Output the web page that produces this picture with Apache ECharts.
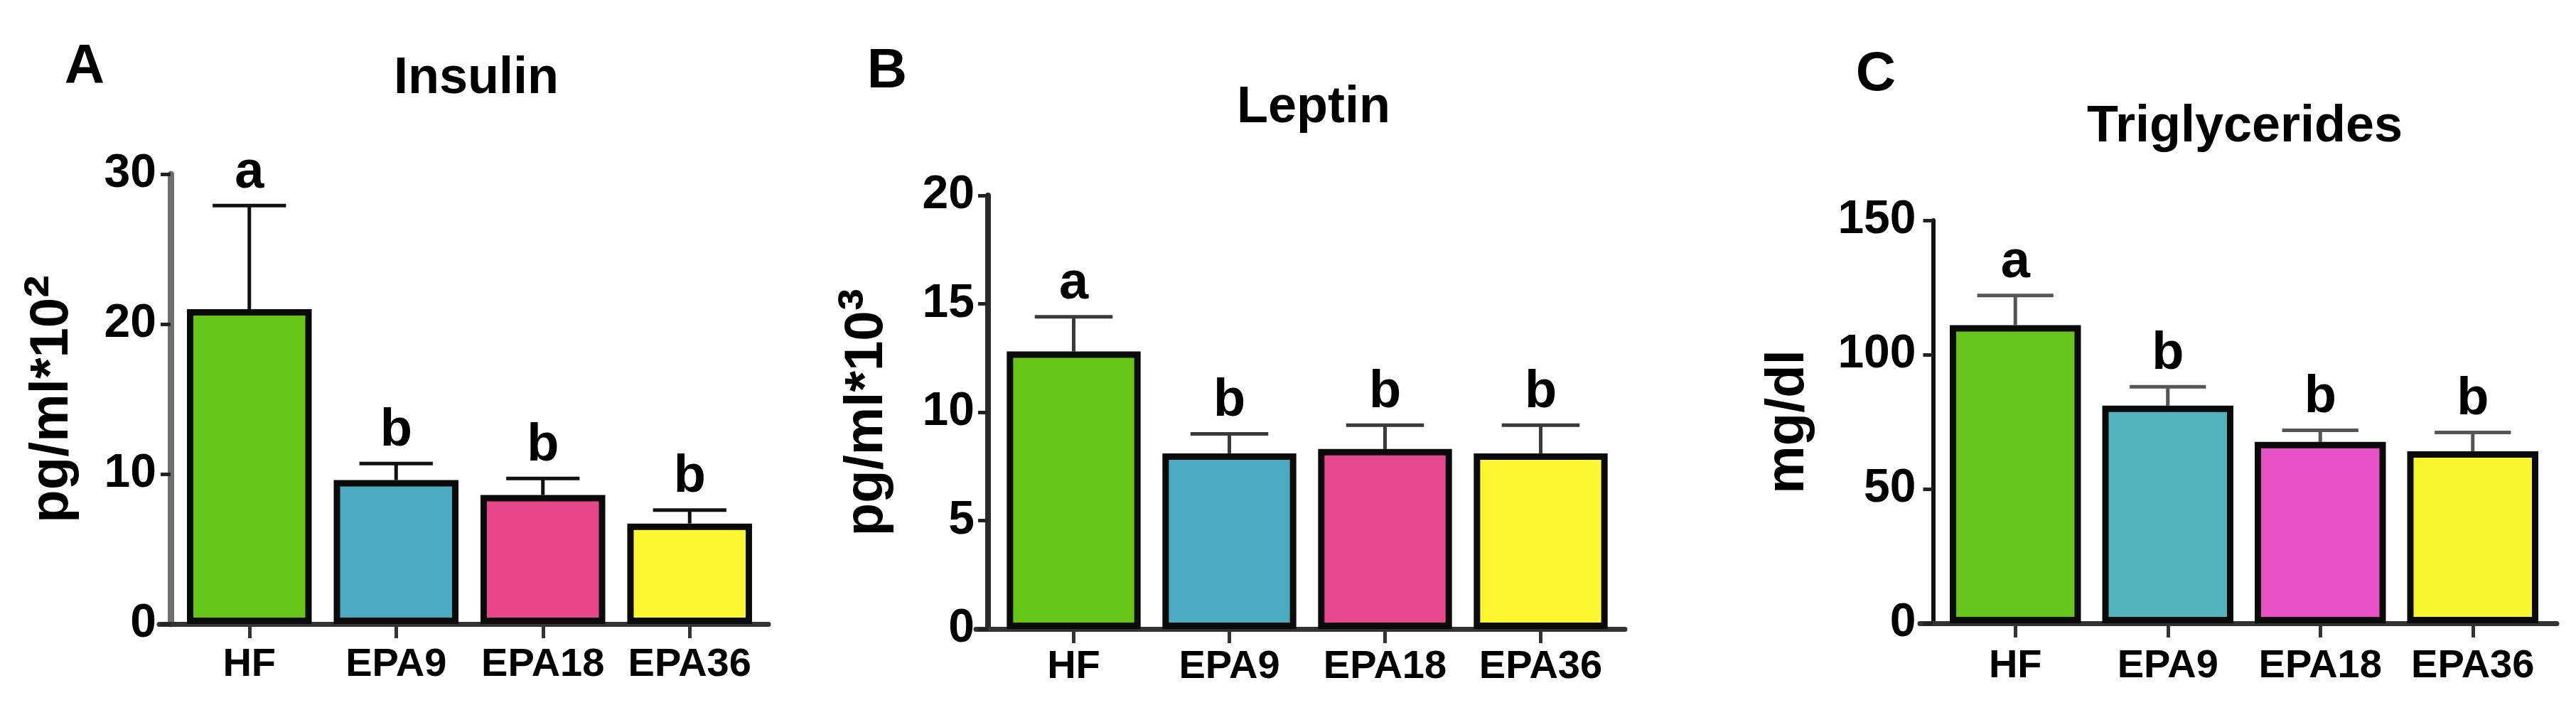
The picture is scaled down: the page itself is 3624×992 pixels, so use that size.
<!DOCTYPE html>
<html><head><meta charset="utf-8">
<script src="https://cdn.jsdelivr.net/npm/echarts@6/dist/echarts.min.js"></script>
<style>html,body{margin:0;padding:0;background:#fff}#c{width:3624px;height:992px}</style>
</head><body><div id="c"></div>
<script>
// ---------------- data ----------------
const categories = ['HF', 'EPA9', 'EPA18', 'EPA36'];

const insulinMean = [21.0, 9.6, 8.6, 6.7];
const insulinSem = [6.9, 1.1, 1.1, 0.9];
const insulinLetters = ['a', 'b', 'b', 'b'];
const insulinTicks = [0, 10, 20, 30];

const leptinMean = [12.8, 8.1, 8.3, 8.1];
const leptinSem = [1.6, 0.9, 1.1, 1.3];
const leptinLetters = ['a', 'b', 'b', 'b'];
const leptinTicks = [0, 5, 10, 15, 20];

const tgMean = [111, 81, 67.5, 64];
const tgSem = [11, 7, 4.3, 7];
const tgLetters = ['a', 'b', 'b', 'b'];
const tgTicks = [0, 50, 100, 150];

const panelLetters = ['A', 'B', 'C'];
const panelTitles = ['Insulin', 'Leptin', 'Triglycerides'];
const yNames = ['pg/ml*10²', 'pg/ml*10³', 'mg/dl'];

// ---------------- styling / layout ----------------
const FONT = "'Liberation Sans', Arial, Helvetica, sans-serif";
const panels = [
  { mean: insulinMean, sem: insulinSem, letters: insulinLetters, ticks: insulinTicks,
    colors: ['#66C616', '#4BA9C0', '#E8478C', '#FCF730'],
    grid: { left: 247.5, top: 245, width: 826, height: 633 }, lineGrid: { left: 224, width: 857 },
    yOffset: 7.5, nameGap: 126, labelMargin: 20, catMargin: 30, barWidth: '85%',
    yLine: { color: '#6f6f6f', width: 9 }, errColor: '#111',
    letterPos: [119, 95], titlePos: [670, 111] },
  { mean: leptinMean, sem: leptinSem, letters: leptinLetters, ticks: leptinTicks,
    colors: ['#66C616', '#4AAAC0', '#E8488E', '#FCF730'],
    grid: { left: 1401, top: 275, width: 876, height: 610 }, lineGrid: { left: 1373, width: 913 },
    yOffset: 11, nameGap: 130, labelMargin: 19, catMargin: 26, barWidth: '86%',
    yLine: { color: '#2a2a2a', width: 8 }, errColor: '#3a3a3a',
    letterPos: [1248, 101], titlePos: [1848, 152] },
  { mean: tgMean, sem: tgSem, letters: tgLetters, ticks: tgTicks,
    colors: ['#66C41A', '#54B3BD', '#E652C6', '#F8F52E'],
    grid: { left: 2728, top: 310, width: 858, height: 567 }, lineGrid: { left: 2701, width: 896 },
    yOffset: 8.5, nameGap: 163, labelMargin: 24, catMargin: 33, barWidth: '86%',
    yLine: { color: '#111', width: 6 }, errColor: '#555',
    letterPos: [2639, 105], titlePos: [3158, 179] }
];

function richName(s) {
  const m = s.match(/^(.*?)([²³]?)$/);
  return m[2] ? '{m|' + m[1] + '}{s|' + m[2] + '}' : '{m|' + m[1] + '}';
}

const grids = [], xAxes = [], yAxes = [], series = [], titles = [];

panels.forEach((p, i) => {
  const gMain = grids.length;
  grids.push(Object.assign({ containLabel: false, outerBoundsMode: 'none' }, p.grid));
  const gLine = grids.length;
  grids.push({ containLabel: false, outerBoundsMode: 'none', left: p.lineGrid.left, width: p.lineGrid.width,
               top: p.grid.top, height: p.grid.height });

  const xi = xAxes.length;
  xAxes.push({
    gridIndex: gMain, type: 'category', data: categories,
    axisLine: { show: false },
    axisTick: { show: true, alignWithLabel: true, length: 20, lineStyle: { color: '#333', width: 5 } },
    axisLabel: { margin: p.catMargin, fontSize: 56, fontWeight: 'bold', color: '#000', fontFamily: FONT, interval: 0 },
    splitLine: { show: false }
  });
  xAxes.push({
    gridIndex: gLine, type: 'value', min: 0, max: 1,
    axisLine: { show: true, onZero: false, lineStyle: { color: '#333', width: 7 } },
    axisTick: { show: false }, axisLabel: { show: false }, splitLine: { show: false }
  });

  const yi = yAxes.length;
  const t = p.ticks;
  yAxes.push({
    gridIndex: gMain, type: 'value', min: t[0], max: t[t.length - 1], interval: t[1] - t[0],
    offset: p.yOffset,
    axisLine: { show: true, onZero: false, lineStyle: { color: p.yLine.color, width: p.yLine.width } },
    axisTick: { show: true, length: 14, lineStyle: { color: '#222', width: 5 } },
    axisLabel: { margin: p.labelMargin, fontSize: 66, fontWeight: 'bold', color: '#000', fontFamily: FONT },
    splitLine: { show: false },
    name: richName(yNames[i]), nameLocation: 'middle', nameRotate: 90, nameGap: p.nameGap,
    nameTextStyle: {
      rich: {
        m: { fontSize: 76, fontWeight: 'bold', color: '#000', fontFamily: FONT, lineHeight: 80 },
        s: { fontSize: 95, fontWeight: 'bold', color: '#000', fontFamily: FONT, lineHeight: 80 }
      }
    }
  });
  yAxes.push({ gridIndex: gLine, type: 'value', min: 0, max: 1, show: false });

  series.push({
    type: 'bar', xAxisIndex: xi, yAxisIndex: yi, z: 3, barWidth: p.barWidth,
    itemStyle: { borderColor: '#0a0a0a', borderWidth: 9 },
    data: p.mean.map((v, j) => ({ value: v, itemStyle: { color: p.colors[j] } })),
    silent: true
  });
  series.push({
    type: 'custom', xAxisIndex: xi, yAxisIndex: yi, z: 2, silent: true,
    data: p.mean.map((v, j) => [j, v, v + p.sem[j]]),
    renderItem: (params, api) => {
      const j = api.value(0);
      const base = api.coord([j, api.value(1)]);
      const top = api.coord([j, api.value(2)]);
      const half = api.size([1, 0])[0] * 0.25;
      return { type: 'group', children: [
        { type: 'line', shape: { x1: base[0], y1: base[1], x2: top[0], y2: top[1] },
          style: { stroke: p.errColor, lineWidth: 5 } },
        { type: 'line', shape: { x1: top[0] - half, y1: top[1], x2: top[0] + half, y2: top[1] },
          style: { stroke: p.errColor, lineWidth: 5 } },
        { type: 'text', x: top[0], y: top[1] - 46,
          style: { text: p.letters[params.dataIndex], font: 'bold 74px ' + FONT, fill: '#000',
                   align: 'center', verticalAlign: 'middle' } }
      ] };
    }
  });

  titles.push({ text: panelLetters[i], left: p.letterPos[0], top: p.letterPos[1], padding: 0,
    textAlign: 'center', textVerticalAlign: 'middle',
    textStyle: { fontSize: 78, fontWeight: 'bold', color: '#000', fontFamily: FONT } });
  titles.push({ text: panelTitles[i], left: p.titlePos[0], top: p.titlePos[1], padding: 0,
    textAlign: 'center', textVerticalAlign: 'middle',
    textStyle: { fontSize: 72, fontWeight: 'bold', color: '#000', fontFamily: FONT } });
});

const chart = echarts.init(document.getElementById('c'), null, { renderer: 'canvas' });
chart.setOption({
  animation: false,
  backgroundColor: '#fff',
  textStyle: { fontFamily: FONT },
  title: titles,
  grid: grids,
  xAxis: xAxes,
  yAxis: yAxes,
  series: series
});
</script></body></html>
